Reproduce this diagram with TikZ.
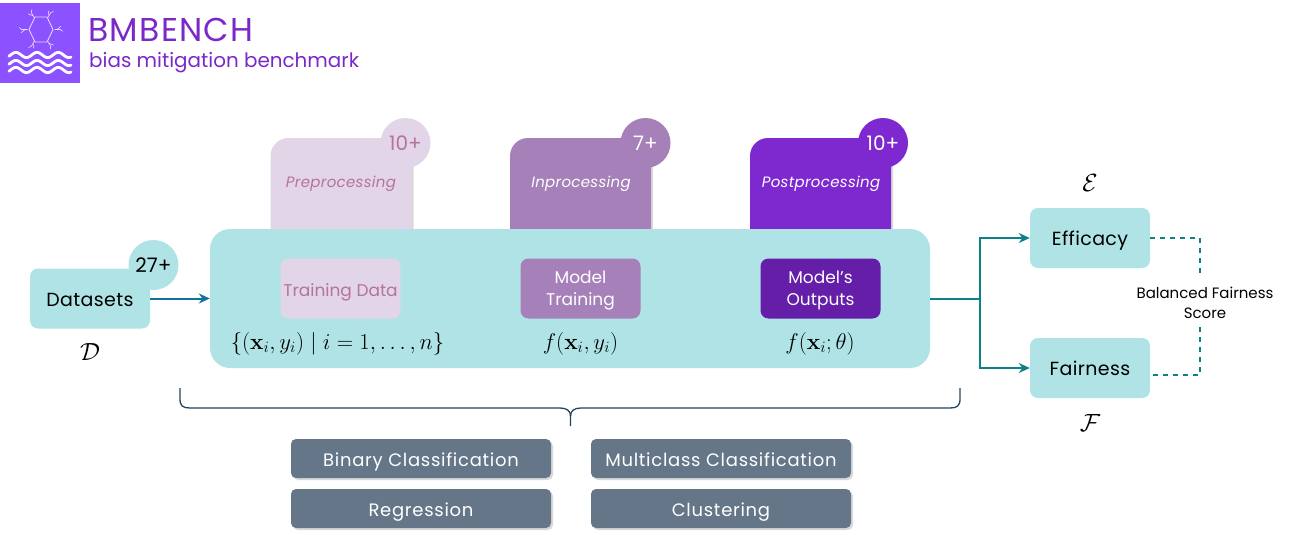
\documentclass[tikz,border=0pt]{standalone}
\usepackage[no-math]{fontspec}
\usepackage{amsmath}
\usepackage{amsfonts}
\usepackage{amssymb}
\usepackage{graphicx}
\usepackage{tikz}
\usetikzlibrary{arrows.meta,shadows}
\setmainfont{Poppins}
\newfontfamily\tightface[LetterSpace=2]{Poppins}
\newfontfamily\wideface[LetterSpace=4]{Poppins}

\newcommand{\stepformula}[1]{\scalebox{1.094}{$#1$}}

\definecolor{aqua}{HTML}{B0E3E6}
\definecolor{lilac}{HTML}{E1D5E7}
\definecolor{mauve}{HTML}{A680B8}
\definecolor{violet}{HTML}{7E28CF}
\definecolor{deepviolet}{HTML}{641EA8}
\definecolor{pinktext}{HTML}{B5739D}
\definecolor{logoviolet}{HTML}{8C52FF}
\definecolor{titleviolet}{HTML}{7A28C8}
\definecolor{slate}{HTML}{647687}
\definecolor{bluearrow}{HTML}{10739E}
\definecolor{tealarrow}{HTML}{0E8088}
\definecolor{navy}{HTML}{23445D}

\tikzset{
  softshadow/.style={drop shadow={shadow xshift=2pt,shadow yshift=-2pt,opacity=0.15,fill=black}},
  tabbox/.style={shape=rectangle,rounded corners=18pt,inner sep=0pt,minimum width=141pt,minimum height=110pt,softshadow},
  badge/.style={shape=circle,inner sep=0pt,minimum size=50pt,text height=15pt,text depth=0pt,font=\fontsize{20}{20}\selectfont},
  tabname/.style={font=\fontsize{15}{15}\tightface\itshape},
  stepbox/.style={shape=rectangle,rounded corners=8pt,inner sep=0pt,minimum width=120pt,minimum height=60pt,align=center,text depth=0pt,font=\fontsize{17}{22}\selectfont},
  aquabox/.style={stepbox,fill=aqua,text=black,text height=15.5pt,font=\fontsize{19}{22}\tightface},
  taskbox/.style={shape=rectangle,rounded corners=5pt,fill=slate,text=white,inner sep=0pt,minimum width=260pt,minimum height=39pt,text height=15pt,text depth=0pt,font=\fontsize{18}{20}\wideface,softshadow},
  mathlabel/.style={inner sep=0pt,font=\fontsize{20.74}{24}\selectfont},
  scriptlabel/.style={inner sep=0pt,font=\fontsize{25}{28}\selectfont},
  scorelink/.style={tealarrow,line width=1.5pt,dash pattern=on 5pt off 5pt},
  feedarrow/.style={line width=2pt,-{Stealth[length=11pt,width=10pt]}}
}

\begin{document}
\begin{tikzpicture}[x=1pt,y=-1pt]

\useasboundingbox (0,0) rectangle (1290,535);

% logo
\fill [logoviolet] (0,3) rectangle (80,83);
\draw [white,opacity=0.8,line width=0.8pt] (53,29.5) -- (47,17) -- (35,17) -- (29,29.5) -- (35,42) -- (47,42) -- cycle;
\foreach \a in {0,60,...,300}{
  \draw [white,opacity=0.8,line width=0.6pt] (41,29.5) ++(\a:13.5) -- ++(\a:6) -- ++(\a+40:3);
  \draw [white,opacity=0.8,line width=0.6pt] (41,29.5) ++(\a:16) -- ++(\a-40:5);
}
\foreach \y in {55,63,70}{
  \draw [white,line width=2.8pt,line cap=round] plot [domain=9:71,samples=60,smooth] (\x,{\y+2.6*sin(17*\x)});
}

\node (title) at (88,30) [anchor=west,inner sep=0pt,text=titleviolet,font=\fontsize{33}{33}\wideface]{BMBENCH};
\node (subtitle) at (89,63) [anchor=west,inner sep=0pt,text=titleviolet,font=\fontsize{19.9}{20}\selectfont]{bias mitigation benchmark};

% method tabs
\node (preTab) at (341,193) [tabbox,fill=lilac]{};
\node (inTab) at (580.5,193) [tabbox,fill=mauve]{};
\node (postTab) at (820.5,193) [tabbox,fill=violet]{};

\node (preCount) at (405.5,143) [badge,fill=lilac,text=pinktext]{10+};
\node (inCount) at (645.5,143) [badge,fill=mauve,text=white]{7+};
\node (postCount) at (883,143) [badge,fill=violet,text=white]{10+};

\node (preName) at (341,184) [tabname,text=pinktext]{Preprocessing};
\node (inName) at (581,184) [tabname,text=white]{Inprocessing};
\node (postName) at (821,184) [tabname,text=white]{Postprocessing};

% pipeline
\node (pipeline) at (570,298.5) [shape=rectangle,rounded corners=20pt,fill=aqua,inner sep=0pt,minimum width=720pt,minimum height=139pt]{};

\node (trainData) at (340.5,288.5) [stepbox,fill=lilac,text=pinktext,text height=15pt]{Training Data};
\node (modelTrain) at (580.5,288.5) [stepbox,fill=mauve,text=white]{Model\\Training};
\node (modelOut) at (820.5,288.5) [stepbox,fill=deepviolet,text=white]{Model's\\Outputs};

\node (trainMath) at (337.5,343.5) [mathlabel]{\stepformula{\{(\mathbf{x}_i, y_i) \mid i = 1, \ldots, n\}}};
\node (modelMath) at (580.5,343.5) [mathlabel]{\stepformula{f(\mathbf{x}_i, y_i)}};
\node (outMath) at (820,343.5) [mathlabel]{\stepformula{f(\mathbf{x}_i; \theta)}};

% datasets
\node (datasets) at (90,298.5) [aquabox]{Datasets};
\node (dataCount) at (153.5,265) [badge,fill=aqua,text=black]{27+};
\node (dataMath) at (90,352) [scriptlabel]{$\mathcal{D}$};

\draw [feedarrow,bluearrow] (datasets.east) -- (pipeline.west);

% metrics
\node (efficacy) at (1090,238) [aquabox]{Efficacy};
\node (fairness) at (1090,368) [aquabox]{Fairness};
\node (effMath) at (1090,183) [scriptlabel]{$\mathcal{E}$};
\node (fairMath) at (1090,423) [scriptlabel]{$\mathcal{F}$};

\coordinate (split) at (980,298.5);
\coordinate (effCorner) at (1200,238);
\coordinate (fairStart) at (1153,375);
\coordinate (fairCorner) at (1200,375);
\coordinate (scoreTop) at (1200,278);
\coordinate (scoreBottom) at (1200,323);

\draw [tealarrow,line width=2pt] (pipeline.east) -- (split);
\draw [feedarrow,tealarrow] (split) |- (efficacy.west);
\draw [feedarrow,tealarrow] (split) |- (fairness.west);

\draw [scorelink] (efficacy.east) -- (effCorner) -- (scoreTop);
\draw [scorelink] (fairStart) -- (fairCorner) -- (scoreBottom);

\node (score) at (1205,303) [align=center,inner sep=0pt,font=\fontsize{15}{20}\selectfont]{Balanced Fairness\\Score};

% brace under the pipeline
\coordinate (braceLeft) at (180,388);
\coordinate (braceRight) at (960,388);
\coordinate (braceTip) at (570.5,426);

\draw [navy,line width=1.3pt] (braceLeft) -- (180,399) .. controls (180,406) and (183,408) .. (190,408) -- (560,408) .. controls (567,408) and (570.5,411) .. (570.5,416) -- (braceTip);
\draw [navy,line width=1.3pt] (braceRight) -- (960,399) .. controls (960,406) and (957,408) .. (950,408) -- (581,408) .. controls (574,408) and (570.5,411) .. (570.5,416);

% tasks
\node (binary) at (421,458.5) [taskbox]{Binary Classification};
\node (multi) at (721,458.5) [taskbox]{Multiclass Classification};
\node (regression) at (421,508.5) [taskbox]{Regression};
\node (clustering) at (721,508.5) [taskbox]{Clustering};

\end{tikzpicture}
\end{document}
